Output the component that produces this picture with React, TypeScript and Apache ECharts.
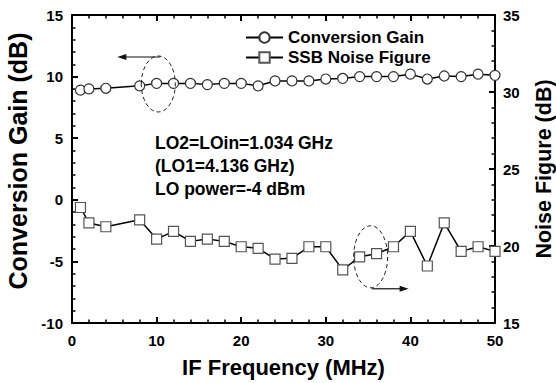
import React, { useEffect, useRef } from "react";
import * as echarts from "echarts";

// IF frequency sweep (MHz)
const freq = [1, 2, 4, 8, 10, 12, 14, 16, 18, 20, 22, 24, 26, 28, 30, 32, 34, 36, 38, 40, 42, 44, 46, 48, 50];
// Conversion gain (dB), left axis
const gain = [8.9, 9.0, 9.05, 9.25, 9.45, 9.45, 9.45, 9.35, 9.45, 9.45, 9.25, 9.65, 9.65, 9.65, 9.8, 9.85, 10.0, 10.0, 10.0, 10.2, 9.8, 10.05, 10.0, 10.2, 10.1];
// SSB noise figure (dB), right axis
const noiseFigure = [22.5, 21.5, 21.25, 21.7, 20.45, 20.95, 20.3, 20.45, 20.3, 19.95, 19.85, 19.15, 19.2, 19.95, 19.95, 18.45, 19.3, 19.5, 19.95, 20.95, 18.7, 21.5, 19.65, 19.95, 19.65];

const seriesNames = ["Conversion Gain", "SSB Noise Figure"];
const noteLines = ["LO2=LOin=1.034 GHz", "(LO1=4.136 GHz)", "LO power=-4 dBm"];

const FONT = "'Liberation Sans', Arial, Helvetica, sans-serif";

const axisLine = { show: true, onZero: false, lineStyle: { color: "#000", width: 2 } };
const axisTick = { show: true, inside: true, length: 6, lineStyle: { color: "#000", width: 2 } };
const minorTick = { show: true, splitNumber: 5, length: 3.5, lineStyle: { color: "#000", width: 1.5 } };
const tickLabel = { color: "#000", fontWeight: "bold", fontSize: 15, fontFamily: FONT };
const titleStyle = { color: "#000", fontWeight: "bold", fontFamily: FONT };

export default function App() {
  const ref = useRef<HTMLDivElement>(null);

  useEffect(() => {
    if (!ref.current) return;
    const chart = echarts.init(ref.current, undefined, { renderer: "svg" });

    chart.setOption({
      animation: false,
      backgroundColor: "#fff",
      textStyle: { fontFamily: FONT },
      grid: { left: 72, top: 15, width: 423, height: 308, outerBoundsMode: "none", containLabel: false },
      legend: {
        data: seriesNames,
        orient: "vertical",
        left: 245,
        top: 29,
        padding: 0,
        itemWidth: 37,
        itemHeight: 13,
        itemGap: 3,
        textStyle: { color: "#000", fontWeight: "bold", fontSize: 17, fontFamily: FONT },
      },
      xAxis: [
        {
          type: "value",
          min: 0,
          max: 50,
          interval: 10,
          position: "bottom",
          axisLine,
          axisTick,
          minorTick,
          splitLine: { show: false },
          axisLabel: { ...tickLabel, margin: 10 },
          name: "IF Frequency (MHz)",
          nameLocation: "middle",
          nameGap: 33,
          nameTextStyle: { ...titleStyle, fontSize: 22 },
        },
        {
          type: "value",
          min: 0,
          max: 50,
          interval: 10,
          position: "top",
          axisLine,
          axisTick,
          minorTick,
          splitLine: { show: false },
          axisLabel: { show: false },
        },
      ],
      yAxis: [
        {
          type: "value",
          min: -10,
          max: 15,
          interval: 5,
          position: "left",
          axisLine,
          axisTick,
          minorTick,
          splitLine: { show: false },
          axisLabel: { ...tickLabel, margin: 9 },
          name: "Conversion Gain (dB)",
          nameLocation: "middle",
          nameRotate: 90,
          nameGap: 38,
          nameTextStyle: { ...titleStyle, fontSize: 25, padding: [0, 0, 0, 16] },
        },
        {
          type: "value",
          min: 15,
          max: 35,
          interval: 5,
          position: "right",
          axisLine,
          axisTick,
          minorTick,
          splitLine: { show: false },
          axisLabel: { ...tickLabel, margin: 8 },
          name: "Noise Figure (dB)",
          nameLocation: "middle",
          nameRotate: 90,
          nameGap: 38,
          nameTextStyle: { ...titleStyle, fontSize: 21.5 },
        },
      ],
      series: [
        {
          name: seriesNames[0],
          type: "line",
          xAxisIndex: 0,
          yAxisIndex: 0,
          data: freq.map((f, i) => [f, gain[i]]),
          symbol: "circle",
          symbolSize: 10,
          showAllSymbol: true,
          lineStyle: { color: "#000", width: 1.5 },
          itemStyle: { color: "#fff", borderColor: "#333", borderWidth: 1.2 },
          z: 3,
        },
        {
          name: seriesNames[1],
          type: "line",
          xAxisIndex: 0,
          yAxisIndex: 1,
          data: freq.map((f, i) => [f, noiseFigure[i]]),
          symbol: "rect",
          symbolSize: 10,
          showAllSymbol: true,
          lineStyle: { color: "#000", width: 1.5 },
          itemStyle: { color: "#fff", borderColor: "#555", borderWidth: 1.2 },
          z: 3,
        },
      ],
    });

    // Dashed ellipses with arrows pointing each curve to its own axis
    const gainMark = chart.convertToPixel({ xAxisIndex: 0, yAxisIndex: 0 }, [10.2, 9.4]) as number[];
    const nfMark = chart.convertToPixel({ xAxisIndex: 0, yAxisIndex: 1 }, [35.3, 19.3]) as number[];
    const dash = { stroke: "#222", lineWidth: 1, lineDash: [4, 3], fill: "none" };
    const solid = { stroke: "#111", lineWidth: 1.2 };

    const [gx, gy] = gainMark;
    const [nx, ny] = nfMark;
    const gTop = gy - 27;
    const nBot = ny + 32;

    chart.setOption({
      graphic: [
        { type: "ellipse", shape: { cx: gx, cy: gy, rx: 17, ry: 28 }, style: dash, z: 10 },
        { type: "line", shape: { x1: gx + 2, y1: gTop, x2: gx - 34, y2: gTop }, style: solid, z: 10 },
        {
          type: "polygon",
          shape: { points: [[gx - 41, gTop], [gx - 32, gTop - 3], [gx - 32, gTop + 3]] },
          style: { fill: "#111" },
          z: 10,
        },
        { type: "ellipse", shape: { cx: nx, cy: ny, rx: 17, ry: 31 }, style: dash, z: 10 },
        { type: "line", shape: { x1: nx + 1, y1: nBot, x2: nx + 31, y2: nBot }, style: solid, z: 10 },
        {
          type: "polygon",
          shape: { points: [[nx + 38, nBot], [nx + 29, nBot - 3], [nx + 29, nBot + 3]] },
          style: { fill: "#111" },
          z: 10,
        },
        ...noteLines.map((t, i) => ({
          type: "text",
          x: 155,
          y: 143 + i * 23,
          style: {
            text: t,
            fill: "#000",
            font: `bold 17.5px ${FONT}`,
            verticalAlign: "middle",
            align: "left",
          },
          z: 10,
        })),
      ],
    });

    return () => chart.dispose();
  }, []);

  return (
    <div
      ref={ref}
      style={{ position: "fixed", left: 0, top: 0, width: 556, height: 383, background: "#fff" }}
    />
  );
}
